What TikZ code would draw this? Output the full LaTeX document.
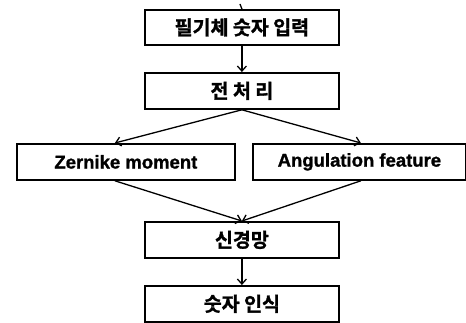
\documentclass[tikz,border=0pt]{standalone}
\usepackage{fontspec}
\setmainfont{Liberation Sans}[BoldFont={Liberation Sans Bold},BoldFeatures={FakeBold=1.2}]
\newfontfamily\kr{Noto Sans CJK KR}[BoldFont={Noto Sans CJK KR Bold},BoldFeatures={FakeBold=1.5}]
\usetikzlibrary{arrows.meta}
\begin{document}
\begin{tikzpicture}[x=1pt,y=-1pt,
  box/.style={draw, line width=1.8pt, inner sep=0pt, anchor=north west},
  en/.style={font=\fontsize{18.5}{20}\selectfont\bfseries},
  ko/.style={font=\fontsize{19.5}{21}\selectfont\kr\bfseries},
  conn/.style={line width=1.3pt, -{Straight Barb[length=5pt,width=9pt,line width=1.3pt]}}]
\useasboundingbox (0,0) rectangle (466,323);
\node[box, ko, minimum width=194pt, minimum height=35pt] (b1) at (144,9) {필기체 숫자 입력};
\node[box, ko, minimum width=194pt, minimum height=36pt] (b2) at (144,72) {전 처 리};
\node[box, en, minimum width=218pt, minimum height=36pt] (b3) at (16,143) {Zernike moment};
\node[box, en, minimum width=213pt, minimum height=36pt] (b4) at (252,143) {Angulation feature};
\node[box, ko, minimum width=194pt, minimum height=36pt] (b5) at (144,221) {신경망};
\node[box, ko, minimum width=194pt, minimum height=36pt] (b6) at (144,285) {숫자 인식};
\coordinate (top) at (240,4);
\draw[line width=1.3pt] (top) -- (b1.north);
\draw[conn] (b1.south) -- (b2.north);
\draw[conn] (b2.south) -- ([xshift=-11pt]b3.north);
\draw[conn] (b2.south) -- ([xshift=1.5pt]b4.north);
\draw[conn] ([xshift=-11pt]b3.south) -- (b5.north);
\draw[conn] ([xshift=1.5pt]b4.south) -- (b5.north);
\draw[conn] (b5.south) -- (b6.north);
\end{tikzpicture}
\end{document}
